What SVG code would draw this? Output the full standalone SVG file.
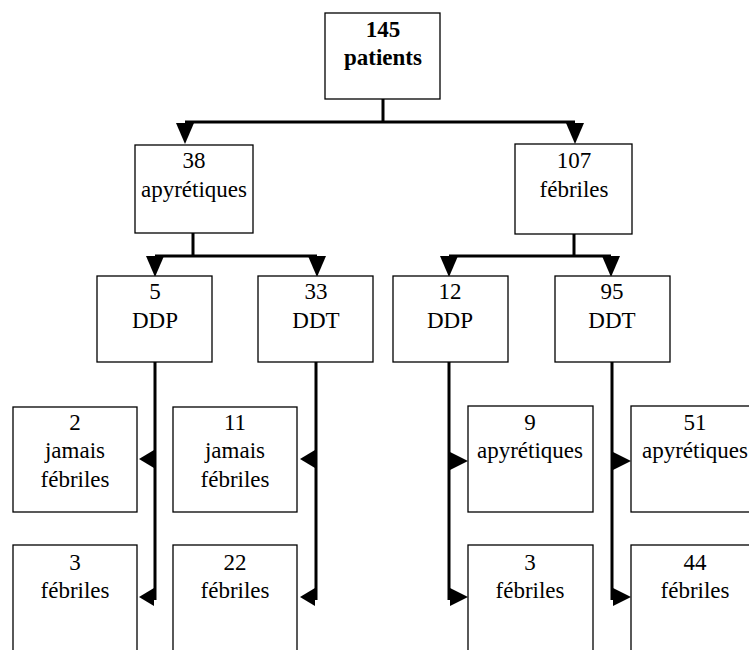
<svg xmlns="http://www.w3.org/2000/svg" width="749" height="650" viewBox="0 0 749 650" font-family="Liberation Serif, DejaVu Serif, serif">
<style>
.box{fill:#fff;stroke:#000;stroke-width:1.3}
.t{font-family:'Liberation Serif','DejaVu Serif',serif;font-size:23px;fill:#000;text-anchor:middle}
.b{font-weight:bold}
.ln{fill:none;stroke:#000;stroke-width:3}
.ah{fill:#000;stroke:none}
</style>
<defs>
<polygon id="down" points="-9,0 9,0 0,21"/>
<polygon id="left" points="0,-9 0,9 -15,0"/>
<polygon id="right" points="0,-9 0,9 18,0"/>
</defs>
<rect width="749" height="650" fill="#fff"/>
<g id="connectors">
<path class="ln" d="M383,99 V122 M185,122 H575"/>
<path class="ln" d="M193,233 V256 M155,256 H317"/>
<path class="ln" d="M574,234 V256 M449,256 H611"/>
<path class="ln" d="M155,362 V600 M316,362 V600 M449,362 V600 M612,362 V600"/>
<g class="ah">
<use href="#down" x="185" y="123"/>
<use href="#down" x="575" y="123"/>
<use href="#down" x="155" y="256"/>
<use href="#down" x="317" y="256"/>
<use href="#down" x="449" y="256"/>
<use href="#down" x="611" y="256"/>
<use href="#left" x="154" y="459"/>
<use href="#left" x="315" y="459"/>
<use href="#left" x="154" y="597"/>
<use href="#left" x="315" y="597"/>
<use href="#right" x="450" y="461"/>
<use href="#right" x="613" y="461"/>
<use href="#right" x="450" y="597"/>
<use href="#right" x="613" y="597"/>
</g>
</g>
<g id="n145">
<rect class="box" x="325" y="13" width="115" height="86"/>
<text class="t b" x="383" y="37">145</text>
<text class="t b" x="383" y="65">patients</text>
</g>
<g id="n38">
<rect class="box" x="135" y="145" width="118" height="88"/>
<text class="t" x="194" y="168">38</text>
<text class="t" x="194" y="197">apyrétiques</text>
</g>
<g id="n107">
<rect class="box" x="515" y="144" width="117" height="90"/>
<text class="t" x="574" y="168">107</text>
<text class="t" x="574" y="197">fébriles</text>
</g>
<g id="n5">
<rect class="box" x="97" y="276" width="115" height="86"/>
<text class="t" x="155" y="299">5</text>
<text class="t" x="155" y="328">DDP</text>
</g>
<g id="n33">
<rect class="box" x="258" y="276" width="115" height="86"/>
<text class="t" x="316" y="299">33</text>
<text class="t" x="316" y="328">DDT</text>
</g>
<g id="n12">
<rect class="box" x="393" y="276" width="115" height="86"/>
<text class="t" x="450" y="299">12</text>
<text class="t" x="450" y="328">DDP</text>
</g>
<g id="n95">
<rect class="box" x="555" y="276" width="115" height="86"/>
<text class="t" x="612" y="299">95</text>
<text class="t" x="612" y="328">DDT</text>
</g>
<g id="n2">
<rect class="box" x="13" y="407" width="124" height="105"/>
<text class="t" x="75" y="430">2</text>
<text class="t" x="75" y="458">jamais</text>
<text class="t" x="75" y="487">fébriles</text>
</g>
<g id="n11">
<rect class="box" x="173" y="407" width="124" height="105"/>
<text class="t" x="235" y="430">11</text>
<text class="t" x="235" y="458">jamais</text>
<text class="t" x="235" y="487">fébriles</text>
</g>
<g id="n9">
<rect class="box" x="468" y="406" width="125" height="106"/>
<text class="t" x="530" y="430">9</text>
<text class="t" x="530" y="458">apyrétiques</text>
</g>
<g id="n51">
<rect class="box" x="631" y="406" width="128" height="106"/>
<text class="t" x="695" y="430">51</text>
<text class="t" x="695" y="458">apyrétiques</text>
</g>
<g id="n3a">
<rect class="box" x="13" y="545" width="124" height="120"/>
<text class="t" x="75" y="570">3</text>
<text class="t" x="75" y="598">fébriles</text>
</g>
<g id="n22">
<rect class="box" x="173" y="545" width="124" height="120"/>
<text class="t" x="235" y="570">22</text>
<text class="t" x="235" y="598">fébriles</text>
</g>
<g id="n3b">
<rect class="box" x="468" y="545" width="125" height="120"/>
<text class="t" x="530" y="570">3</text>
<text class="t" x="530" y="598">fébriles</text>
</g>
<g id="n44">
<rect class="box" x="631" y="545" width="128" height="120"/>
<text class="t" x="695" y="570">44</text>
<text class="t" x="695" y="598">fébriles</text>
</g>
</svg>
